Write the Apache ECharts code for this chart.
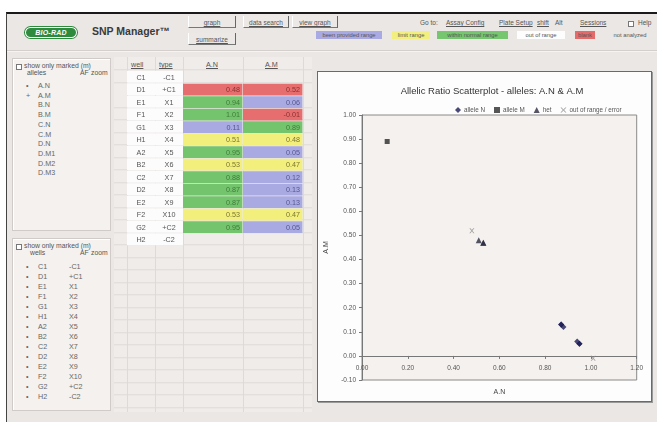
<!DOCTYPE html>
<html><head><meta charset="utf-8">
<script src="https://cdn.jsdelivr.net/npm/echarts@6/dist/echarts.min.js"></script>
<style>
html,body{margin:0;padding:0;width:657px;height:422px;overflow:hidden;background:#fff;font-family:"Liberation Sans",Arial,sans-serif;color:#444;}
.a{position:absolute;white-space:nowrap;}
#frame{left:6px;top:12px;width:651px;height:410px;background:#ebe7e4;border-top:2px solid #1a1a1a;border-left:1px solid #444;}
#logo{left:25px;top:27px;width:52px;height:11px;background:#2e8b3e;border-radius:6px;box-shadow:inset 0 0 0 1px #fff,0 0 0 1px #2e8b3e;color:#fff;font:italic bold 7px "Liberation Sans";line-height:11px;text-align:center;letter-spacing:0.2px;}
#title{left:92px;top:25px;font:bold 10.5px "Liberation Sans";color:#3a3a3a;}
.btn{height:11px;background:#ece8e5;border-right:1px solid #666;border-bottom:1px solid #777;border-left:1px solid #fff;font-size:6.5px;line-height:14px;text-align:center;text-decoration:underline;color:#555;}
.nav{top:19px;font-size:6.5px;color:#555;}
.u{text-decoration:underline;}
.lg{top:31px;height:8px;font-size:5.8px;line-height:8px;text-align:center;color:#555;}
#divider{left:7px;top:50px;width:650px;height:1px;background:#d4cfcc;border-bottom:1px solid #f6f4f2;}
.panel{background:#f4f1ef;border:1px solid #d0cbc8;box-shadow:inset 1px 1px 0 #fff;}
.pt{font-size:6.8px;color:#555;}
.cb{width:4px;height:4px;border:1px solid #777;background:#fff;}
.it{font-size:7.2px;color:#666;}
#tbl{left:114px;top:57px;width:198px;height:355px;background-color:#efecea;
 background-image:repeating-linear-gradient(to bottom,transparent 0,transparent 11.5px,#dedad7 11.5px,#dedad7 12.5px);
 background-position:0 1.3px;}
.vl{top:57px;width:1px;height:355px;background:#dedad7;}
.th{top:60px;font-size:7.2px;color:#555;text-decoration:underline;}
#plotbox{left:317px;top:71px;width:333px;height:329px;background:#fdfdfd;border:1px solid #6a6a6a;box-shadow:1px 1px 0 #999;}
#chart{position:absolute;left:0;top:0;width:657px;height:422px;z-index:10;}
</style></head>
<body>
<div id="frame" class="a"></div>
<div id="logo" class="a">BIO-RAD</div>
<div id="title" class="a">SNP Manager™</div>
<div class="a btn" style="left:188px;top:16px;width:46px;">graph</div>
<div class="a btn" style="left:243px;top:16px;width:44px;">data search</div>
<div class="a btn" style="left:292px;top:16px;width:44px;">view graph</div>
<div class="a btn" style="left:188px;top:33px;width:46px;">summarize</div>
<div class="a nav" style="left:420px;">Go to:</div>
<div class="a nav u" style="left:446px;">Assay Config</div>
<div class="a nav u" style="left:499px;">Plate Setup</div>
<div class="a nav u" style="left:537px;">shift</div>
<div class="a nav" style="left:555px;">Alt</div>
<div class="a nav u" style="left:580px;">Sessions</div>
<div class="a cb" style="left:628px;top:21px;"></div>
<div class="a nav" style="left:638px;">Help</div>
<div class="a lg" style="left:316px;width:66px;background:#a9a9e4;">been provided range</div>
<div class="a lg" style="left:392px;width:38px;background:#f3ef7e;">limit range</div>
<div class="a lg" style="left:437px;width:71px;background:#76c56f;">within normal range</div>
<div class="a lg" style="left:517px;width:48px;background:#fdfdfd;">out of range</div>
<div class="a lg" style="left:575px;width:20px;background:#e56b6b;">blank</div>
<div class="a lg" style="left:606px;width:48px;">not analyzed</div>
<div id="divider" class="a"></div>

<div class="a panel" style="left:12px;top:58px;width:97px;height:171px;"></div>
<div class="a panel" style="left:12px;top:238px;width:97px;height:171px;"></div>
<div id="lists"></div>

<div id="tbl" class="a"></div>
<div class="a vl" style="left:127px;"></div>
<div class="a vl" style="left:155px;"></div>
<div class="a vl" style="left:183px;"></div>
<div class="a vl" style="left:243px;"></div>
<div class="a vl" style="left:303px;"></div>
<div class="a th" style="left:131px;">well</div>
<div class="a th" style="left:159px;">type</div>
<div class="a th" style="left:206px;">A.N</div>
<div class="a th" style="left:265px;">A.M</div>

<div id="plotbox" class="a"></div>
<div id="chart"></div>
<script>
// ---------- data ----------
const alleles = ['A.N','A.M','B.N','B.M','C.N','C.M','D.N','D.M1','D.M2','D.M3'];
const wells = ['C1','D1','E1','F1','G1','H1','A2','B2','C2','D2','E2','F2','G2','H2'];
const types = ['-C1','+C1','X1','X2','X3','X4','X5','X6','X7','X8','X9','X10','+C2','-C2'];
const valuesAN = [null,0.48,0.94,1.01,0.11,0.51,0.95,0.53,0.88,0.87,0.87,0.53,0.95,null];
const valuesAM = [null,0.52,0.06,-0.01,0.89,0.48,0.05,0.47,0.12,0.13,0.13,0.47,0.05,null];
const rangeAN = [null,'blank','normal','normal','provided','limit','normal','limit','normal','normal','normal','limit','normal',null];
const rangeAM = [null,'blank','provided','blank','normal','limit','provided','limit','provided','provided','provided','limit','provided',null];
const calls = [null,'out of range / error','allele N','out of range / error','allele M','het','allele N','het','allele N','allele N','allele N','het','allele N',null];
const callNames = ['allele N','allele M','het','out of range / error'];
const tableCols = ['A.N','A.M'];
const textCols = ['well','type'];

// ---------- side lists (HTML text) ----------
const lists = document.getElementById('lists');
function add(html, style, cls){ const d=document.createElement('div'); d.className='a '+(cls||''); d.style.cssText=style; d.innerHTML=html; lists.appendChild(d); }
[[62,'alleles'],[242,'wells']].forEach(([t,lab])=>{
  add('', 'left:16px;top:'+(t+2)+'px;', 'cb');
  add('show only marked (m)', 'left:24px;top:'+t+'px;', 'pt');
  add(lab, 'left:'+(lab==='wells'?30:27)+'px;top:'+(t+7)+'px;', 'pt');
  add('AF', 'left:80px;top:'+(t+7)+'px;', 'pt');
  add('zoom', 'left:91px;top:'+(t+7)+'px;', 'pt');
});
alleles.forEach((a,i)=>{
  const y = 81 + i*9.7;
  if (i<2) add(i===0?'•':'+', 'left:26px;top:'+y+'px;', 'it');
  add(a, 'left:38px;top:'+y+'px;', 'it');
});
wells.forEach((w,i)=>{
  const y = 262 + i*10;
  add('•', 'left:26px;top:'+y+'px;', 'it');
  add(w, 'left:38px;top:'+y+'px;', 'it');
  add(types[i], 'left:69px;top:'+y+'px;', 'it');
});

// ---------- styles ----------
const fills = {blank:'#e66e6e', normal:'#74c46d', provided:'#aaaae3', limit:'#f3ef7c'};
const inks  = {blank:'#8a3030', normal:'#3f7a3a', provided:'#55558f', limit:'#7a7530'};
const font = '7.2px "Liberation Sans", Arial, sans-serif';

const textCells = [];
wells.forEach((w,i)=>{ textCells.push([0,i,w]); textCells.push([1,i,types[i]]); });
const valCells = [];
wells.forEach((w,i)=>{
  if (valuesAN[i]!==null) valCells.push([0,i,valuesAN[i],rangeAN[i]]);
  if (valuesAM[i]!==null) valCells.push([1,i,valuesAM[i],rangeAM[i]]);
});

const markers = {
  'allele N': {symbol:'diamond', color:'#1c1c55', size:6},
  'allele M': {symbol:'rect', color:'#2a2a2a', size:5},
  'het': {symbol:'triangle', color:'#2b2b40', size:6},
  'out of range / error': {symbol:'path://M0,0L2,0L5,3L8,0L10,0L6,4L10,8L8,8L5,5L2,8L0,8L4,4Z', color:'#8a8a8a', size:5}
};
const scatterSeries = callNames.map(name=>({
  type:'scatter', name, xAxisIndex:2, yAxisIndex:2,
  symbol:markers[name].symbol, symbolSize:markers[name].size,
  itemStyle:{color:markers[name].color},
  data: wells.map((w,i)=>calls[i]===name?[valuesAN[i],valuesAM[i]]:null).filter(d=>d)
}));

const chart = echarts.init(document.getElementById('chart'), null, {renderer:'canvas'});
const hidden = {show:false};
chart.setOption({
  animation:false,
  backgroundColor:'transparent',
  title:{text:'Allelic Ratio Scatterplot - alleles: A.N & A.M', left:487, top:81, textAlign:'center',
    textStyle:{fontSize:9.5, fontWeight:'normal', color:'#333', fontFamily:'Liberation Sans'}},
  legend:{data:callNames, left:450, top:102, itemWidth:6, itemHeight:6, itemGap:9,
    textStyle:{fontSize:6.3, color:'#555', fontFamily:'Liberation Sans', padding:[0,0,0,-2]}},
  grid:[
    {left:127, top:70.8, width:56, height:175, outerBoundsMode:'none'},
    {left:183, top:70.8, width:120, height:175, outerBoundsMode:'none'},
    {left:362, top:115, right:20.3, bottom:42, show:true, borderColor:'#8a8a8a', borderWidth:1, backgroundColor:'#f5f1ee', outerBoundsMode:'none'}
  ],
  xAxis:[
    {type:'category', gridIndex:0, data:textCols, axisLine:hidden, axisTick:hidden, axisLabel:hidden},
    {type:'category', gridIndex:1, data:tableCols, axisLine:hidden, axisTick:hidden, axisLabel:hidden},
    {type:'value', gridIndex:2, min:0, max:1.2, interval:0.2, name:'A.N', nameLocation:'middle', nameGap:9, nameMoveOverlap:false,
      nameTextStyle:{fontSize:7, color:'#444', fontFamily:'Liberation Sans'},
      axisLine:{onZero:true, lineStyle:{color:'#777'}}, axisTick:{length:3, lineStyle:{color:'#777'}},
      axisLabel:{fontSize:6.5, color:'#555', margin:-15, formatter:v=>v.toFixed(2)}, splitLine:hidden}
  ],
  yAxis:[
    {type:'category', gridIndex:0, data:wells, inverse:true, axisLine:hidden, axisTick:hidden, axisLabel:hidden},
    {type:'category', gridIndex:1, data:wells, inverse:true, axisLine:hidden, axisTick:hidden, axisLabel:hidden},
    {type:'value', gridIndex:2, min:-0.1, max:1.0, interval:0.1, name:'A.M', nameLocation:'middle', nameGap:32,
      nameTextStyle:{fontSize:7, color:'#444', fontFamily:'Liberation Sans'},
      axisLine:{show:true, lineStyle:{color:'#777'}}, axisTick:{show:true, length:3, lineStyle:{color:'#777'}},
      axisLabel:{fontSize:6.5, color:'#555', margin:6, formatter:v=>v.toFixed(2)}, splitLine:hidden}
  ],
  series:[
    {type:'custom', xAxisIndex:0, yAxisIndex:0, data:textCells.map(c=>[c[0],c[1]]),
      renderItem:(params, api)=>{
        const p = api.coord([api.value(0), api.value(1)]); const s = api.size([1,1]);
        const c = textCells[params.dataIndex];
        return {type:'group', children:[
          {type:'rect', shape:{x:p[0]-s[0]/2, y:p[1]-s[1]/2, width:s[0], height:s[1]-0.6}, style:{fill:'#fcfcfc'}},
          {type:'text', style:{text:c[2], x:p[0], y:p[1]+0.5, align:'center', verticalAlign:'middle', fill:'#555', font}}
        ]};
      }},
    {type:'custom', xAxisIndex:1, yAxisIndex:1, data:valCells.map(c=>[c[0],c[1],c[2]]),
      renderItem:(params, api)=>{
        const p = api.coord([api.value(0), api.value(1)]); const s = api.size([1,1]);
        const c = valCells[params.dataIndex];
        return {type:'group', children:[
          {type:'rect', shape:{x:p[0]-s[0]/2, y:p[1]-s[1]/2+0.4, width:s[0]-0.6, height:s[1]-0.8}, style:{fill:fills[c[3]]}},
          {type:'text', style:{text:c[2].toFixed(2), x:p[0]+s[0]/2-3, y:p[1]+0.5, align:'right', verticalAlign:'middle', fill:inks[c[3]], font}}
        ]};
      }}
  ].concat(scatterSeries)
});
</script>
</body></html>
